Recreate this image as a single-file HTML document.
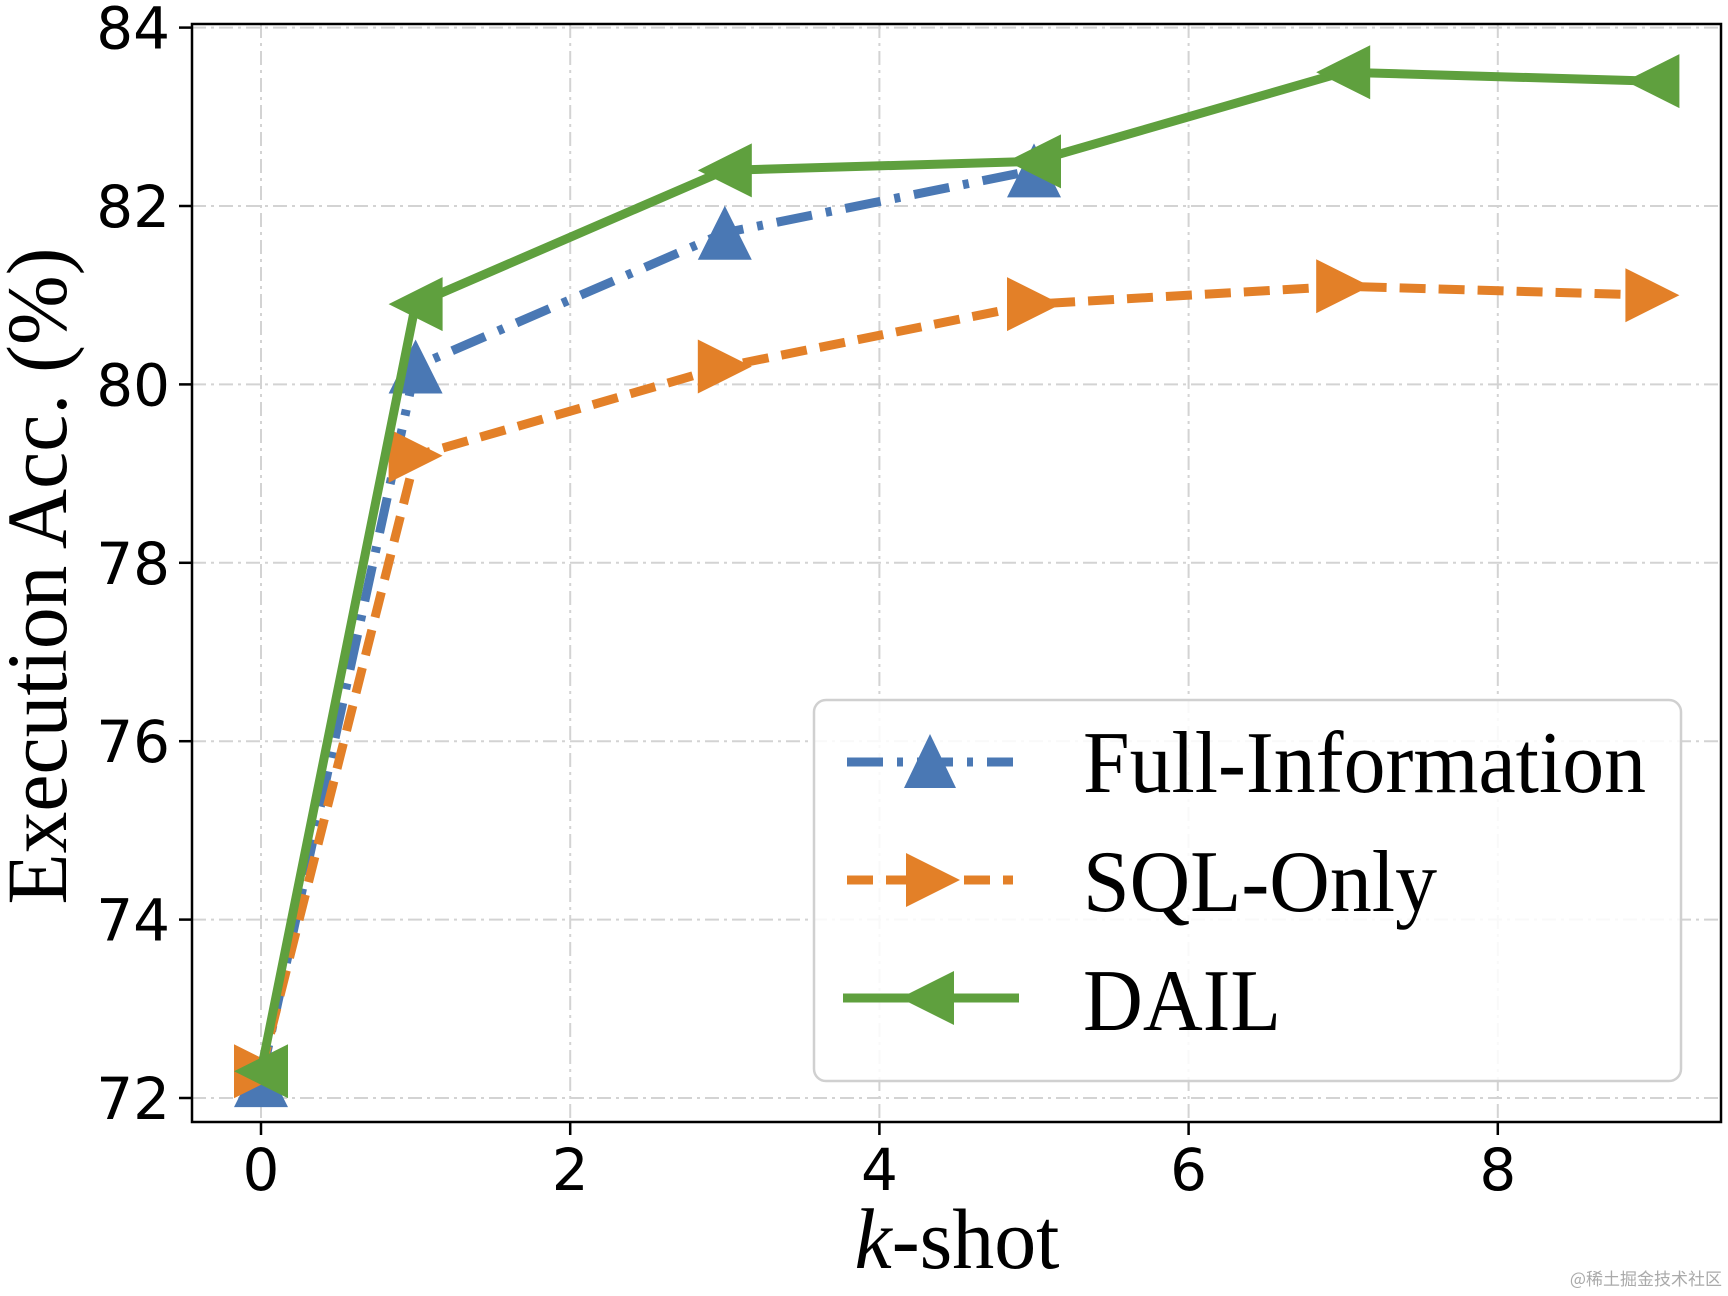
<!DOCTYPE html>
<html><head><meta charset="utf-8"><style>html,body{margin:0;padding:0;background:#fff}svg{display:block}</style></head>
<body>
<svg id="chart" xmlns="http://www.w3.org/2000/svg" width="1728" height="1296" viewBox="0 0 1728 1296">
<g id="grid"></g>
<g id="series"></g>
<rect x="192" y="24" width="1529" height="1098" fill="none" stroke="#000" stroke-width="2.5"/>
<g id="ticks"></g>
<text x="957" y="1268" text-anchor="middle" font-family="Liberation Serif, serif" font-size="86" textLength="205" lengthAdjust="spacingAndGlyphs"><tspan font-style="italic">k</tspan>-shot</text>
<text transform="translate(66,576) rotate(-90)" text-anchor="middle" font-family="Liberation Serif, serif" font-size="86" textLength="657" lengthAdjust="spacingAndGlyphs">Execution Acc. (%)</text>
<g>
<rect x="814" y="700" width="867" height="381" rx="12" fill="#fff" fill-opacity="0.85" stroke="#d0d0d0" stroke-width="2.5"/>
<g>
<line x1="847" y1="762" x2="1013" y2="762" stroke="#4a78b4" stroke-width="9" stroke-dasharray="36,14,6,14"/>
<polygon points="930,734 904,788 956,788" fill="#4a78b4"/>
<text x="1083" y="792" font-family="Liberation Serif, serif" font-size="88" textLength="563" lengthAdjust="spacingAndGlyphs">Full-Information</text>
</g>
<g>
<line x1="847" y1="880" x2="1013" y2="880" stroke="#e38028" stroke-width="9" stroke-dasharray="26,13"/>
<polygon points="960,880 906,853 906,907" fill="#e38028"/>
<text x="1083" y="911" font-family="Liberation Serif, serif" font-size="88" textLength="354" lengthAdjust="spacingAndGlyphs">SQL-Only</text>
</g>
<g>
<line x1="843" y1="998" x2="1019" y2="998" stroke="#5fa03e" stroke-width="9"/>
<polygon points="900,998 954,971 954,1025" fill="#5fa03e"/>
<text x="1083" y="1030" font-family="Liberation Serif, serif" font-size="88" textLength="198" lengthAdjust="spacingAndGlyphs">DAIL</text>
</g>
</g>
<text x="1722" y="1285" text-anchor="end" font-family="Noto Sans CJK SC, sans-serif" font-size="17" fill="#aaa">@稀土掘金技术社区</text>
</svg>
<script>
const xTicks = [0, 2, 4, 6, 8];
const yTicks = [72, 74, 76, 78, 80, 82, 84];
const fullX = [0, 1, 3, 5];
const fullY = [72.2, 80.2, 81.7, 82.4];
const sqlX = [0, 1, 3, 5, 7, 9];
const sqlY = [72.3, 79.2, 80.2, 80.9, 81.1, 81.0];
const dailX = [0, 1, 3, 5, 7, 9];
const dailY = [72.3, 80.9, 82.4, 82.5, 83.5, 83.4];

const NS = 'http://www.w3.org/2000/svg';
function xs(v){ return 261 + v * 154.6; }
function ys(v){ return 1098 - (v - 72) * 89.2; }
function mk(tag, attrs, parent){
  const e = document.createElementNS(NS, tag);
  for (const k in attrs) e.setAttribute(k, attrs[k]);
  parent.appendChild(e); return e;
}
const grid = document.getElementById('grid');
const ticks = document.getElementById('ticks');
const series = document.getElementById('series');
xTicks.forEach(t => {
  const g = mk('line', {x1: xs(t), x2: xs(t), y1: 24, y2: 1122, stroke: '#d3d3d3', 'stroke-width': 2, 'stroke-dasharray': '14,5,3,5'}, grid);
  
  
  const tk = mk('line', {x1: xs(t), x2: xs(t), y1: 1122, y2: 1135, stroke: '#000', 'stroke-width': 2.5}, ticks);
  
  
  const lb = mk('text', {x: xs(t), y: 1190, 'text-anchor': 'middle', 'font-family': 'DejaVu Sans, sans-serif', 'font-size': 58}, ticks);
  lb.textContent = t;
  
  
});
yTicks.forEach(t => {
  const g = mk('line', {x1: 192, x2: 1721, y1: ys(t), y2: ys(t), stroke: '#d3d3d3', 'stroke-width': 2, 'stroke-dasharray': '14,5,3,5'}, grid);
  
  
  const tk = mk('line', {x1: 179, x2: 192, y1: ys(t), y2: ys(t), stroke: '#000', 'stroke-width': 2.5}, ticks);
  
  
  const lb = mk('text', {x: 170, y: ys(t) + 21, 'text-anchor': 'end', 'font-family': 'DejaVu Sans, sans-serif', 'font-size': 58}, ticks);
  lb.textContent = t;
  
  
});
function draw(X, Y, color, dash, marker, name){
  const g = mk('g', {}, series);
  
  
  const pts = X.map((x, i) => xs(x) + ',' + ys(Y[i])).join(' ');
  const attrs = {points: pts, fill: 'none', stroke: color, 'stroke-width': 9, 'stroke-linejoin': 'round'};
  if (dash) attrs['stroke-dasharray'] = dash;
  const pl = mk('polyline', attrs, g);
  
  
  X.forEach((x, i) => {
    const cx = xs(x), cy = ys(Y[i]), r = 27;
    let p;
    if (marker === 'up') p = `${cx},${cy-r} ${cx-r},${cy+r} ${cx+r},${cy+r}`;
    else if (marker === 'right') p = `${cx+r},${cy} ${cx-r},${cy-r} ${cx-r},${cy+r}`;
    else p = `${cx-r},${cy} ${cx+r},${cy-r} ${cx+r},${cy+r}`;
    const m = mk('polygon', {points: p, fill: color}, g);
    
    
  });
}
draw(fullX, fullY, '#4a78b4', '36,14,6,14', 'up', 'full-information');
draw(sqlX, sqlY, '#e38028', '26,13', 'right', 'sql-only');
draw(dailX, dailY, '#5fa03e', null, 'left', 'dail');
</script>
</body></html>
